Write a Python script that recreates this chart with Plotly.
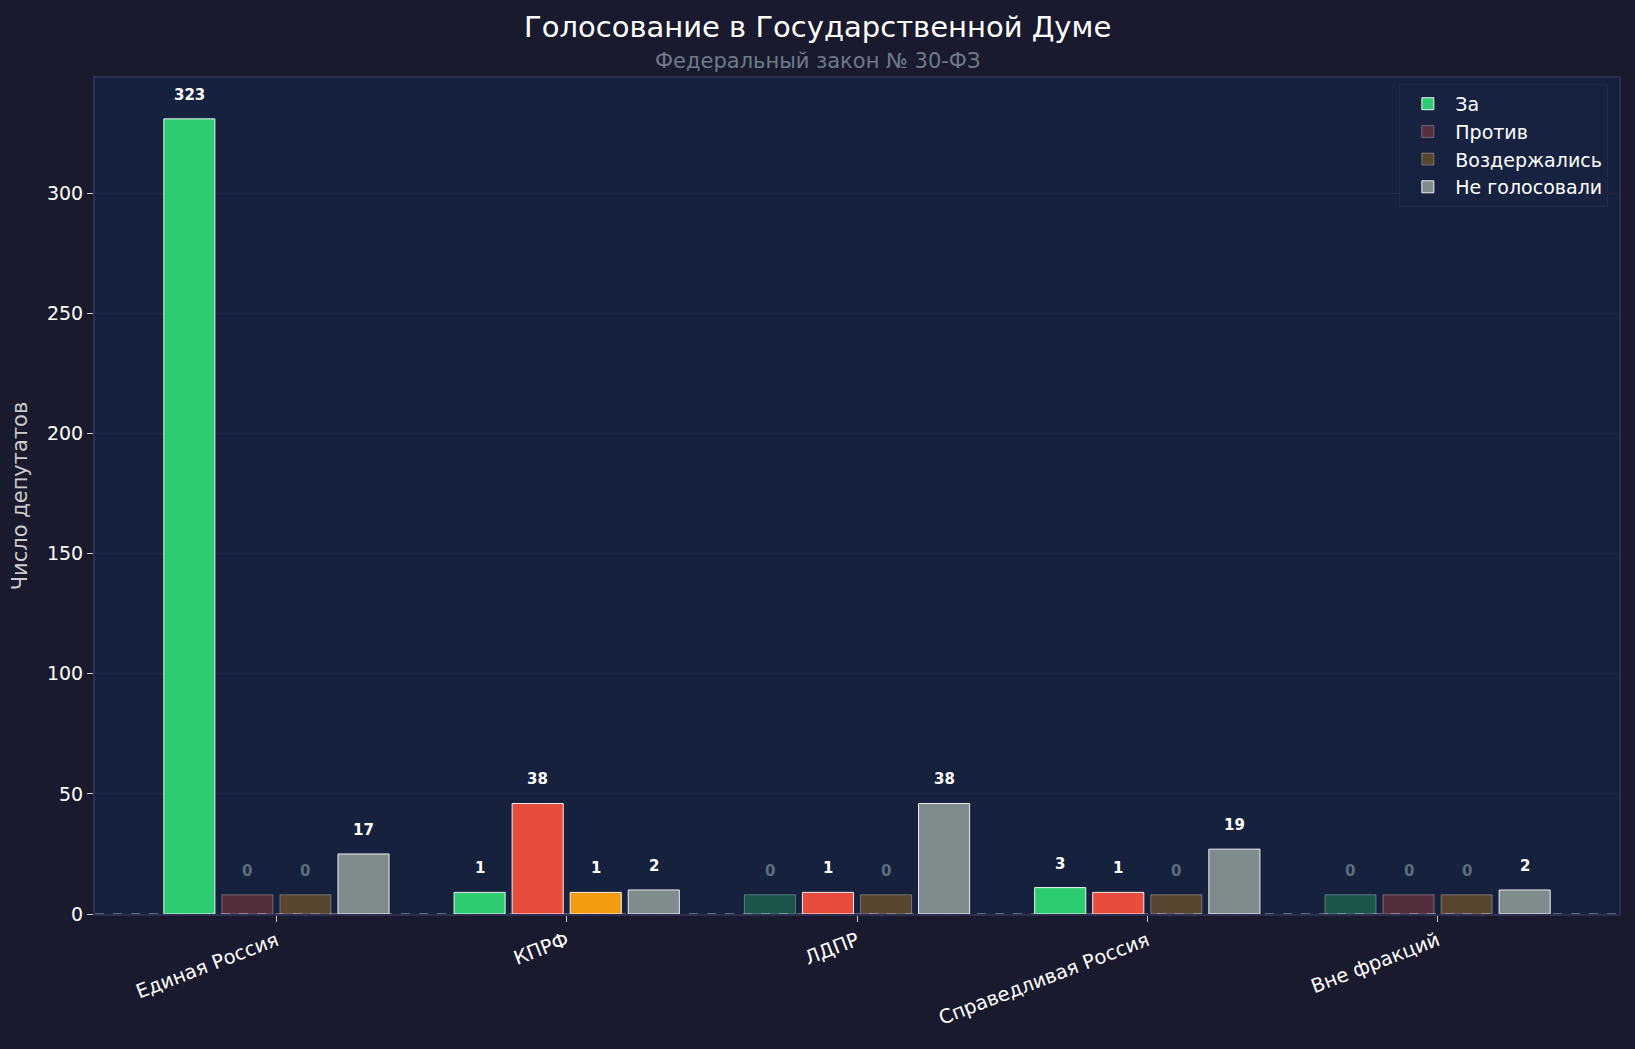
import plotly.graph_objects as go

# фракции и результаты голосования
fractions = ['Единая Россия', 'КПРФ', 'ЛДПР', 'Справедливая Россия', 'Вне фракций']
za = [323, 1, 0, 3, 0]
protiv = [0, 38, 1, 1, 0]
vozderzh = [0, 1, 0, 0, 0]
ne_golos = [17, 2, 38, 19, 2]

series_names = ['За', 'Против', 'Воздержались', 'Не голосовали']
series_vals = [za, protiv, vozderzh, ne_golos]
series_rgb = [(46, 204, 113), (231, 76, 60), (243, 156, 18), (127, 140, 141)]

MIN_H = 8        # чтобы нулевые столбики были видны
BAR_STEP = 0.2
BAR_W = 0.176
FONT = 'DejaVu Sans'

fig = go.Figure()
annotations = []

for j, (name, vals, rgb) in enumerate(zip(series_names, series_vals, series_rgb)):
    xs = [i + (j - 1.5) * BAR_STEP for i in range(len(fractions))]
    heights = [v + MIN_H for v in vals]
    fills = ['rgba(%d,%d,%d,%s)' % (rgb + ((1 if v > 0 else 0.3),)) for v in vals]
    edges = ['rgba(255,255,255,%s)' % (0.9 if v > 0 else 0.3) for v in vals]
    fig.add_trace(go.Bar(
        x=xs, y=heights, width=BAR_W, name=name,
        marker=dict(color=fills, line=dict(color=edges, width=1)),
        customdata=vals, hovertemplate='%{customdata}<extra>' + name + '</extra>',
    ))
    for x, h, v in zip(xs, heights, vals):
        annotations.append(dict(
            x=x, y=h, xref='x', yref='y', yanchor='middle', yshift=24,
            text='<b>%d</b>' % v, showarrow=False,
            font=dict(family=FONT, size=15, color='white' if v > 0 else '#5d6d7e'),
        ))

# заголовок и подзаголовок
annotations.append(dict(
    x=0.474, y=1.0, xref='paper', yref='paper', yanchor='middle', yshift=51,
    text='Голосование в Государственной Думе', showarrow=False,
    font=dict(family=FONT, size=29, color='white'),
))
annotations.append(dict(
    x=0.474, y=1.0, xref='paper', yref='paper', yanchor='middle', yshift=17,
    text='Федеральный закон № 30-ФЗ', showarrow=False,
    font=dict(family=FONT, size=21, color='#6c7a89'),
))

fig.update_layout(
    width=1635, height=1049,
    barmode='overlay',
    paper_bgcolor='#1a1a2e', plot_bgcolor='#16213e',
    font=dict(family=FONT, color='white', size=18),
    margin=dict(l=95, r=16, t=78, b=135),
    annotations=annotations,
    showlegend=True,
    legend=dict(
        x=0.993, y=0.993, xanchor='right', yanchor='top',
        bgcolor='#172240', bordercolor='#1f2b4d', borderwidth=1,
        font=dict(family=FONT, size=19, color='white'),
        tracegroupgap=3, itemwidth=45,
    ),
    xaxis=dict(
        range=[-0.625, 4.625],
        tickmode='array', tickvals=list(range(len(fractions))), ticktext=fractions,
        tickangle=-21, ticks='outside', ticklen=6, tickcolor='#cccccc',
        tickfont=dict(family=FONT, size=19.5, color='white'),
        showgrid=False, zeroline=False,
        showline=True, linecolor='#2e2e50', linewidth=2, mirror=True,
    ),
    yaxis=dict(
        range=[0, 348], dtick=50,
        ticks='outside', ticklen=6, tickcolor='#cccccc',
        tickfont=dict(family=FONT, size=19, color='white'),
        gridcolor='#262b4e', gridwidth=1, zeroline=False,
        showline=True, linecolor='#2e2e50', linewidth=2, mirror=True,
        title=dict(text='Число депутатов', font=dict(family=FONT, size=21, color='#cccccc'),
                   standoff=14),
    ),
    shapes=[dict(
        type='line', xref='paper', yref='y', x0=0, x1=1, y0=0, y1=0, layer='above',
        line=dict(color='rgba(200,200,220,0.55)', width=1.5, dash='dash'),
    )],
)

fig.write_html('out.html', config={'displayModeBar': False},
               post_script="document.body.style.margin='0px';")
